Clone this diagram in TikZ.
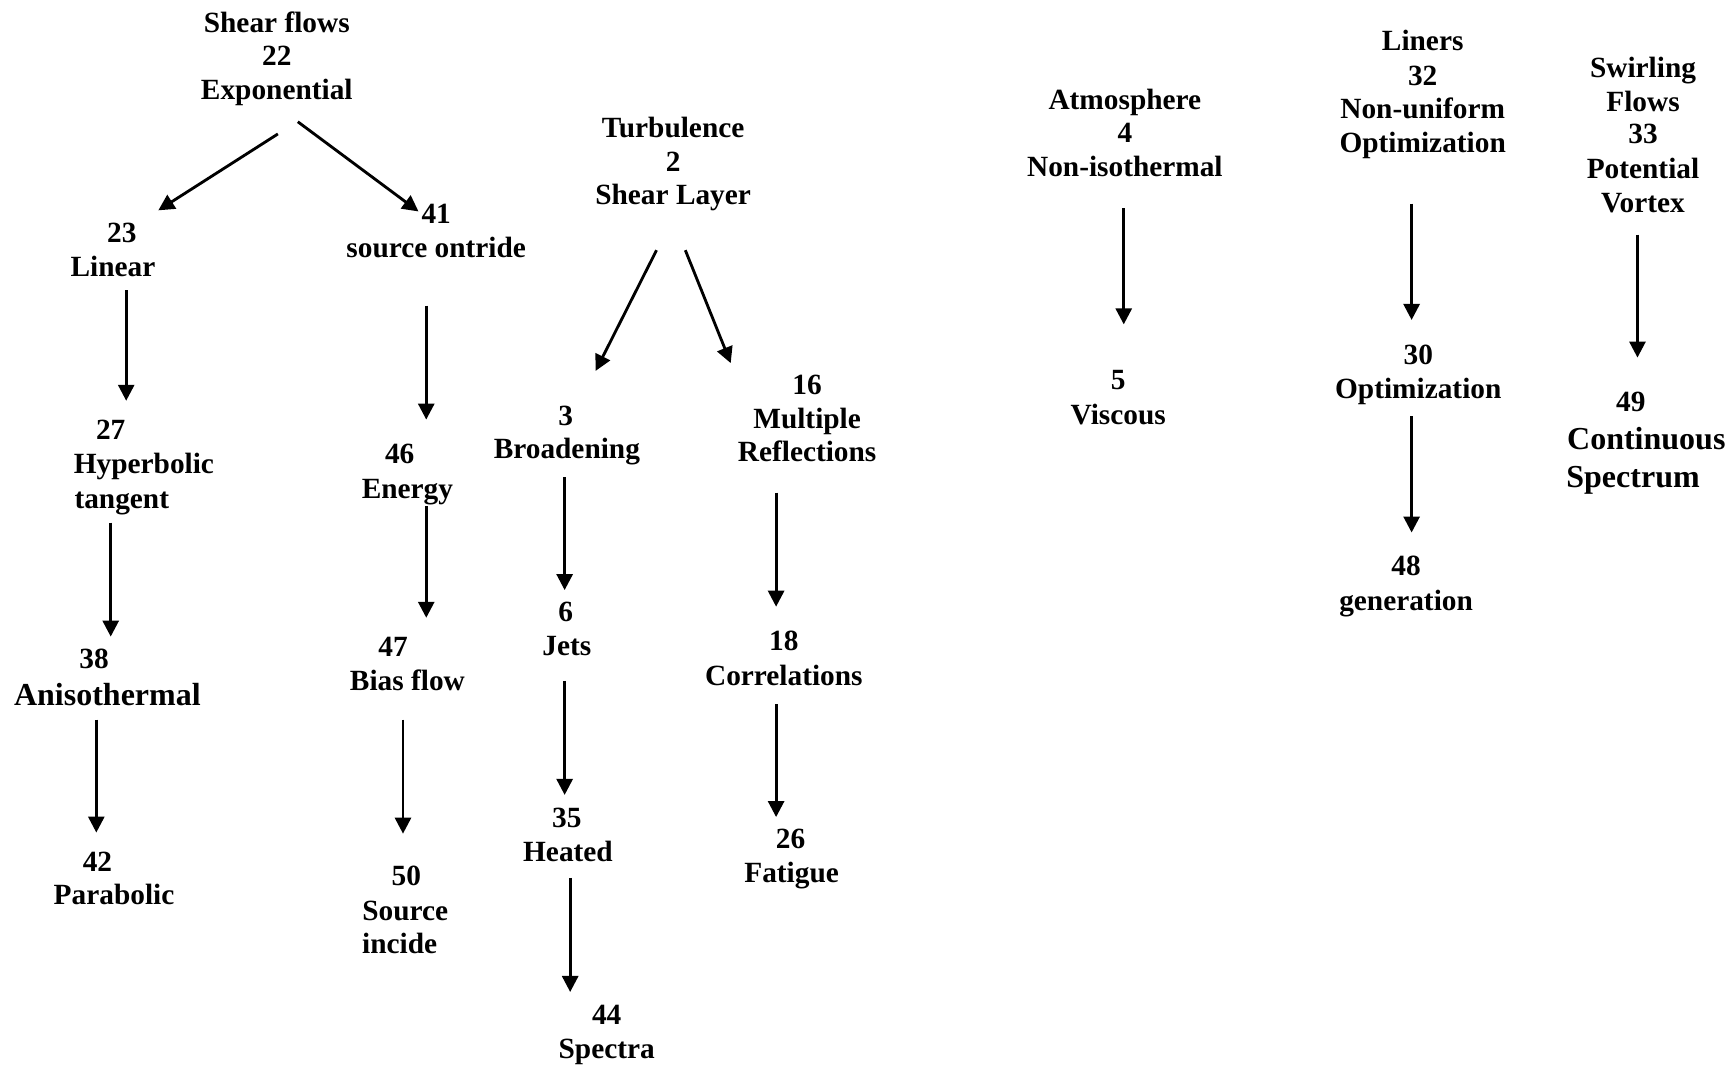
\documentclass[tikz,border=0pt]{standalone}
\usepackage{fontspec}
\setmainfont{Liberation Serif}
\usepackage{tikz}
\usetikzlibrary{arrows.meta,calc}

\begin{document}
\begin{tikzpicture}[x=0.3321pt,y=-0.3321pt,
  lbl/.style={anchor=base,inner sep=0pt,outer sep=0pt,font=\bfseries\fontsize{8.8}{10}\selectfont},
  lblbig/.style={lbl,font=\bfseries\fontsize{9.6}{11}\selectfont},
  arr/.style={draw=drawColor,line width=0.85pt,-{Triangle[length=4.8pt,width=4.8pt]}}]
\definecolor{drawColor}{rgb}{0.00,0.00,0.00}
\path[use as bounding box,fill=white] (0,0) rectangle (1568,963);

% shear flows tree
\node[lbl] (n22a) at (250, 29) {Shear flows};
\node[lbl] (n22b) at (250, 59) {22};
\node[lbl] (n22c) at (250, 90) {Exponential};
\node[lbl] (n23a) at (110,219) {23};
\node[lbl] (n23b) at (102,250) {Linear};
\node[lbl] (n41a) at (394,202) {41};
\node[lbl] (n41b) at (394,233) {source ontride};
\node[lbl] (n27a) at (100,397) {27};
\node[lbl] (n27b) at (130,428) {Hyperbolic};
\node[lbl] (n27c) at (110,459) {tangent};
\node[lbl] (n46a) at (361,419) {46};
\node[lbl] (n46b) at (368,450) {Energy};
\node[lbl] (n38a) at ( 85,604) {38};
\node[lblbig] (n38b) at ( 97,637) {Anisothermal};
\node[lbl] (n47a) at (355,593) {47};
\node[lbl] (n47b) at (368,624) {Bias flow};
\node[lbl] (n42a) at ( 88,787) {42};
\node[lbl] (n42b) at (103,817) {Parabolic};
\node[lbl] (n50a) at (367,800) {50};
\node[lbl] (n50b) at (366,831) {Source};
\node[lbl] (n50c) at (361,861) {incide};

\draw[arr] ($(n22c.base)+(1,31)$) -- ($(n23a.base)+(33,-29)$);
\draw[arr] ($(n22c.base)+(19,20)$) -- ($(n41a.base)+(-16,-11)$);
\draw[arr] ($(n23b.base)+(12,12)$) -- ($(n27a.base)+(14,-35)$);
\draw[arr] ($(n41b.base)+(-9,43)$) -- ($(n46a.base)+(24,-40)$);
\draw[arr] ($(n27c.base)+(-10,13)$) -- ($(n38a.base)+(15,-29)$);
\draw[arr] ($(n46b.base)+(17,7)$) -- ($(n47a.base)+(30,-35)$);
\draw[arr] ($(n38b.base)+(-10,13)$) -- ($(n42a.base)+(-1,-35)$);
\draw[arr] ($(n47b.base)+(-4,26)$) -- ($(n50a.base)+(-3,-47)$);

% turbulence tree
\node[lbl] (n2a) at (608,124) {Turbulence};
\node[lbl] (n2b) at (608,155) {2};
\node[lbl] (n2c) at (608,185) {Shear Layer};
\node[lbl] (n3a) at (511,384) {3};
\node[lbl] (n3b) at (512,414) {Broadening};
\node[lbl] (n16a) at (729,356) {16};
\node[lbl] (n16b) at (729,387) {Multiple};
\node[lbl] (n16c) at (729,417) {Reflections};
\node[lbl] (n6a) at (511,561) {6};
\node[lbl] (n6b) at (512,592) {Jets};
\node[lbl] (n18a) at (708,588) {18};
\node[lbl] (n18b) at (708,619) {Correlations};
\node[lbl] (n35a) at (512,747) {35};
\node[lbl] (n35b) at (513,778) {Heated};
\node[lbl] (n26a) at (714,766) {26};
\node[lbl] (n26b) at (715,797) {Fatigue};
\node[lbl] (n44a) at (548,925) {44};
\node[lbl] (n44b) at (548,956) {Spectra};

\draw[arr] ($(n2c.base)+(-15,41)$) -- ($(n3a.base)+(27,-49)$);
\draw[arr] ($(n2c.base)+(11,41)$) -- ($(n16a.base)+(-69,-28)$);
\draw[arr] ($(n3b.base)+(-2,17)$) -- ($(n6a.base)+(-1,-28)$);
\draw[arr] ($(n16c.base)+(-28,28)$) -- ($(n18a.base)+(-7,-40)$);
\draw[arr] ($(n6b.base)+(-2,23)$) -- ($(n35a.base)+(-2,-29)$);
\draw[arr] ($(n18b.base)+(-7,17)$) -- ($(n26a.base)+(-13,-28)$);
\draw[arr] ($(n35b.base)+(2,15)$) -- ($(n44a.base)+(-33,-29)$);

% atmosphere, liners, swirling flows
\node[lbl] (n4a) at (1016, 99) {Atmosphere};
\node[lbl] (n4b) at (1016,129) {4};
\node[lbl] (n4c) at (1016,159) {Non-isothermal};
\node[lbl] (n5a) at (1010,352) {5};
\node[lbl] (n5b) at (1010,383) {Viscous};
\node[lbl] (n32a) at (1285, 46) {Liners};
\node[lbl] (n32b) at (1285, 77) {32};
\node[lbl] (n32c) at (1285,107) {Non-uniform};
\node[lbl] (n32d) at (1285,138) {Optimization};
\node[lbl] (n30a) at (1281,329) {30};
\node[lbl] (n30b) at (1281,360) {Optimization};
\node[lbl] (n48a) at (1270,520) {48};
\node[lbl] (n48b) at (1270,551) {generation};
\node[lbl] (n33a) at (1484, 70) {Swirling};
\node[lbl] (n33b) at (1484,101) {Flows};
\node[lbl] (n33c) at (1484,130) {33};
\node[lbl] (n33d) at (1484,161) {Potential};
\node[lbl] (n33e) at (1484,192) {Vortex};
\node[lbl] (n49a) at (1473,372) {49};
\node[lblbig] (n49b) at (1487,406) {Continuous};
\node[lblbig] (n49c) at (1475,440) {Spectrum};

\draw[arr] ($(n4c.base)+(-1,29)$) -- ($(n5a.base)+(5,-59)$);
\draw[arr] ($(n32d.base)+(-10,46)$) -- ($(n30a.base)+(-6,-40)$);
\draw[arr] ($(n30b.base)+(-6,16)$) -- ($(n48a.base)+(5,-39)$);
\draw[arr] ($(n33e.base)+(-5,20)$) -- ($(n49a.base)+(6,-49)$);
\end{tikzpicture}
\end{document}
